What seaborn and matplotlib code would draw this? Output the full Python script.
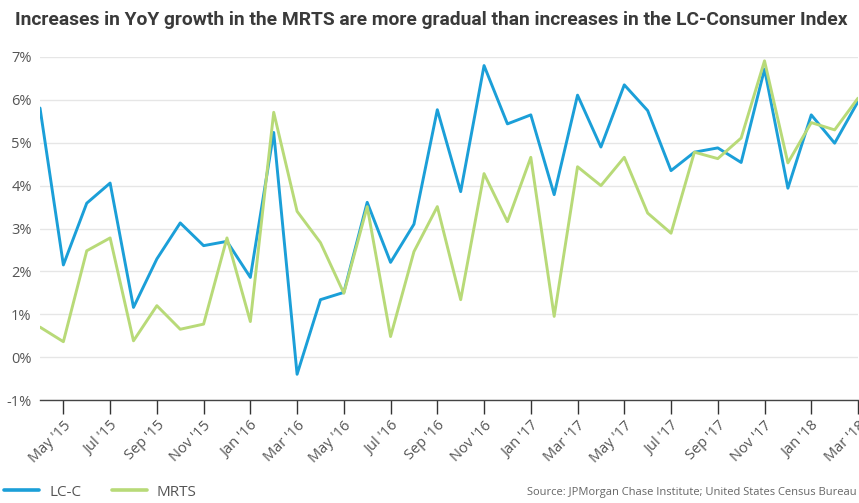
import matplotlib
matplotlib.use("Agg")
import matplotlib.pyplot as plt
from matplotlib.lines import Line2D
import seaborn as sns
import pandas as pd

# Monthly YoY growth, Apr 2015 - Mar 2018 (percent)
months = pd.date_range("2015-04-01", "2018-03-01", freq="MS")
lcc = [5.81, 2.15, 3.59, 4.06, 1.16, 2.29, 3.13, 2.60, 2.70, 1.86, 5.24, -0.40,
       1.34, 1.51, 3.61, 2.21, 3.10, 5.77, 3.86, 6.80, 5.44, 5.65, 3.79, 6.11,
       4.90, 6.35, 5.75, 4.35, 4.78, 4.88, 4.54, 6.72, 3.94, 5.65, 4.99, 5.96]
mrts = [0.70, 0.36, 2.48, 2.78, 0.38, 1.20, 0.65, 0.77, 2.78, 0.83, 5.71, 3.40,
        2.67, 1.49, 3.51, 0.48, 2.46, 3.51, 1.34, 4.28, 3.16, 4.66, 0.95, 4.44,
        4.00, 4.66, 3.36, 2.89, 4.78, 4.63, 5.11, 6.91, 4.53, 5.47, 5.30, 6.04]
series_names = ["LC-C", "MRTS"]
colors = {"LC-C": "#1b9fd8", "MRTS": "#b8da78"}
y_ticks = [-1, 0, 1, 2, 3, 4, 5, 6, 7]

idx = list(range(len(months)))
df = pd.DataFrame({
    "idx": idx * 2,
    "value": lcc + mrts,
    "series": ["LC-C"] * len(lcc) + ["MRTS"] * len(mrts),
})

sns.set_theme(style="white")
plt.rcParams["font.family"] = ["Open Sans", "DejaVu Sans"]

fig = plt.figure(figsize=(8.59, 5.03), dpi=100)
ax = fig.add_axes([40 / 859, 1 - 400 / 503, 818 / 859, 343 / 503])

sns.lineplot(data=df, x="idx", y="value", hue="series", palette=colors,
             hue_order=series_names, linewidth=2.1, ax=ax, legend=False)

ax.set_xlim(0, len(months) - 1)
ax.set_ylim(-1, 7)
ax.set_yticks(y_ticks)
ax.set_yticklabels([f"{t}%" for t in y_ticks], color="#555555", fontsize=10.5)
ax.grid(axis="y", color="#e6e6e6", linewidth=1)
ax.grid(axis="x", visible=False)
for side in ["top", "right", "left"]:
    ax.spines[side].set_visible(False)
ax.spines["bottom"].set_color("#444444")
ax.spines["bottom"].set_linewidth(1)
ax.tick_params(axis="y", length=0, pad=6)

tick_pos = idx[1::2]
ax.set_xticks(tick_pos)
ax.set_xticklabels([months[i].strftime("%b '%y") for i in tick_pos],
                   rotation=45, ha="right", rotation_mode="anchor",
                   color="#555555", fontsize=10.5)
ax.tick_params(axis="x", length=10, width=1, color="#333333", pad=3,
               direction="out", bottom=True)
ax.set_xlabel("")
ax.set_ylabel("")

fig.text(15 / 859, 1 - 20 / 503,
         "Increases in YoY growth in the MRTS are more gradual than increases in the LC-Consumer Index",
         fontsize=13.9, fontweight="bold", color="#3a3a3a", va="center", ha="left",
         family=["Roboto", "DejaVu Sans"])

handles = [Line2D([0], [0], color=colors[n], linewidth=2.6) for n in series_names]
fig.legend(handles, series_names, loc="center left",
           bbox_to_anchor=(4 / 859, 1 - 492 / 503), ncol=2, frameon=False,
           handlelength=2.3, columnspacing=2.0, handletextpad=0.65,
           fontsize=11, labelcolor="#555555", borderaxespad=0, borderpad=0)

fig.text(857 / 859, 1 - 492 / 503,
         "Source: JPMorgan Chase Institute; United States Census Bureau",
         fontsize=8.0, color="#666666", ha="right", va="center")

fig.savefig("out.png", dpi=100)
